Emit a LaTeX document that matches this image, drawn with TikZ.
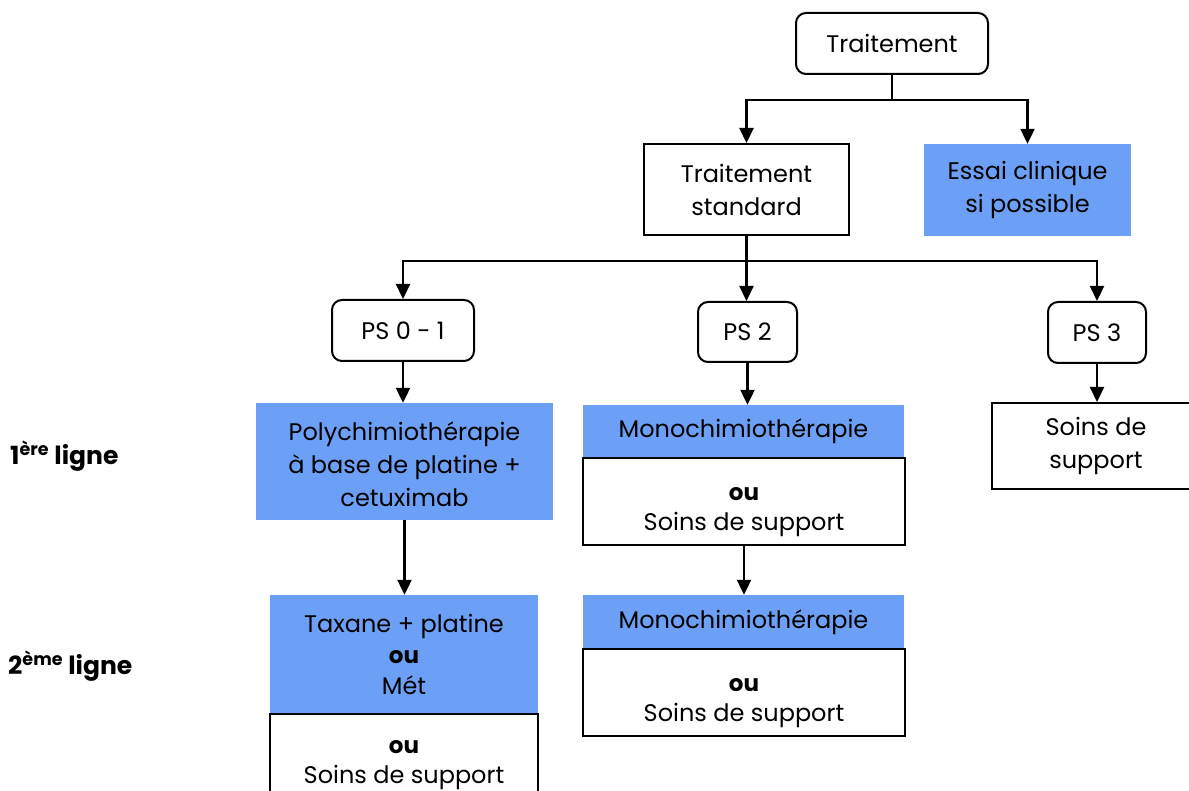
\documentclass[tikz,border=0pt]{standalone}
\usepackage{fontspec}
\setmainfont{Poppins}
\usetikzlibrary{arrows.meta}
\definecolor{boxblue}{RGB}{108,160,246}
\tikzset{
  base/.style={minimum width=#1, inner sep=0pt, align=center, font=\fontsize{24}{33}\selectfont},
  whitebox/.style={base=#1, draw=black, line width=2pt, fill=white},
  roundbox/.style={base=#1, draw=black, line width=2pt, fill=white, rounded corners=10pt},
  bluebox/.style={base=#1, fill=boxblue},
  arr/.style={line width=2.2pt, -{Triangle[length=15pt,width=14pt]}},
  ln/.style={line width=2.2pt},
  lbl/.style={anchor=west, inner sep=0pt, font=\fontsize{25}{30}\selectfont\bfseries}
}
\newcommand{\oubold}{{\fontsize{23}{28}\selectfont\bfseries ou}}
\newcommand{\lowstrut}{\rule{0pt}{35pt}}
\begin{document}
\begin{tikzpicture}[x=1pt,y=-1pt]
\useasboundingbox (0,0) rectangle (1189,791);
\clip (0,0) rectangle (1189,791);
% top
\node[roundbox=192pt, minimum height=61pt] (trt) at (892,43.5) {Traitement};
\node[whitebox=205pt, minimum height=91pt] (std) at (746.5,189.5) {Traitement\\standard};
\node[bluebox=207pt, minimum height=92pt] (essai) at (1027.5,190) {Essai clinique\\si possible};
% PS
\node[roundbox=142pt, minimum height=61pt] (ps01) at (403,330.5) {PS 0 - 1};
\node[roundbox=99pt, minimum height=60pt] (ps2) at (747.5,332) {PS 2};
\node[roundbox=98pt, minimum height=61pt] (ps3) at (1097,332.5) {PS 3};
% 1st line
\node[bluebox=297pt, minimum height=117pt] (poly) at (404.5,461.5) {\rule{0pt}{24pt}Polychimiothérapie\\à base de platine +\\cetuximab};
\node[bluebox=321pt, minimum height=53pt] (mono1) at (743.5,431.5) {Monochimiothérapie};
\node[whitebox=322pt, minimum height=87pt] (mono1b) at (744,501.5) {\lowstrut\oubold\\[-3pt]Soins de support};
\node[whitebox=208pt, minimum height=86pt] (soins3) at (1096,446) {Soins de\\support};
% 2nd line
\node[bluebox=268pt, minimum height=119pt] (tax) at (404,654.5) {Taxane + platine\\[-2pt]\oubold\\[-2pt]Mét};
\node[whitebox=268pt, minimum height=87pt] (taxb) at (404,757.5) {\rule{0pt}{29pt}\oubold\\[-3pt]Soins de support};
\node[bluebox=321pt, minimum height=54pt] (mono2) at (743.5,622) {Monochimiothérapie};
\node[whitebox=322pt, minimum height=87pt] (mono2b) at (744,692.5) {\lowstrut\oubold\\[-3pt]Soins de support};
% labels
\node[lbl] (l1) at (10,456) {1\textsuperscript{ère} ligne};
\node[lbl] (l2) at (8,666) {2\textsuperscript{ème} ligne};
% connectors
\coordinate (j1) at (892,100);
\coordinate (j2) at (746.5,261);
\draw[ln] (trt.south) -- (j1);
\draw[arr] (j1) -| (std.north);
\draw[arr] (j1) -| (essai.north);
\draw[ln] (std.south) -- (j2);
\draw[arr] (j2) -| (ps01.north);
\draw[arr] (j2) -- (j2 |- ps2.north);
\draw[arr] (j2) -| (ps3.north);
\draw[arr] (ps01.south) -- (ps01.south |- poly.north);
\draw[arr] (ps2.south) -- (ps2.south |- mono1.north);
\draw[arr] (ps3.south) -- (ps3.south |- soins3.north);
\draw[arr] (poly.south) -- (poly.south |- tax.north);
\draw[arr] (mono1b.south) -- (mono1b.south |- mono2.north);
\end{tikzpicture}
\end{document}
